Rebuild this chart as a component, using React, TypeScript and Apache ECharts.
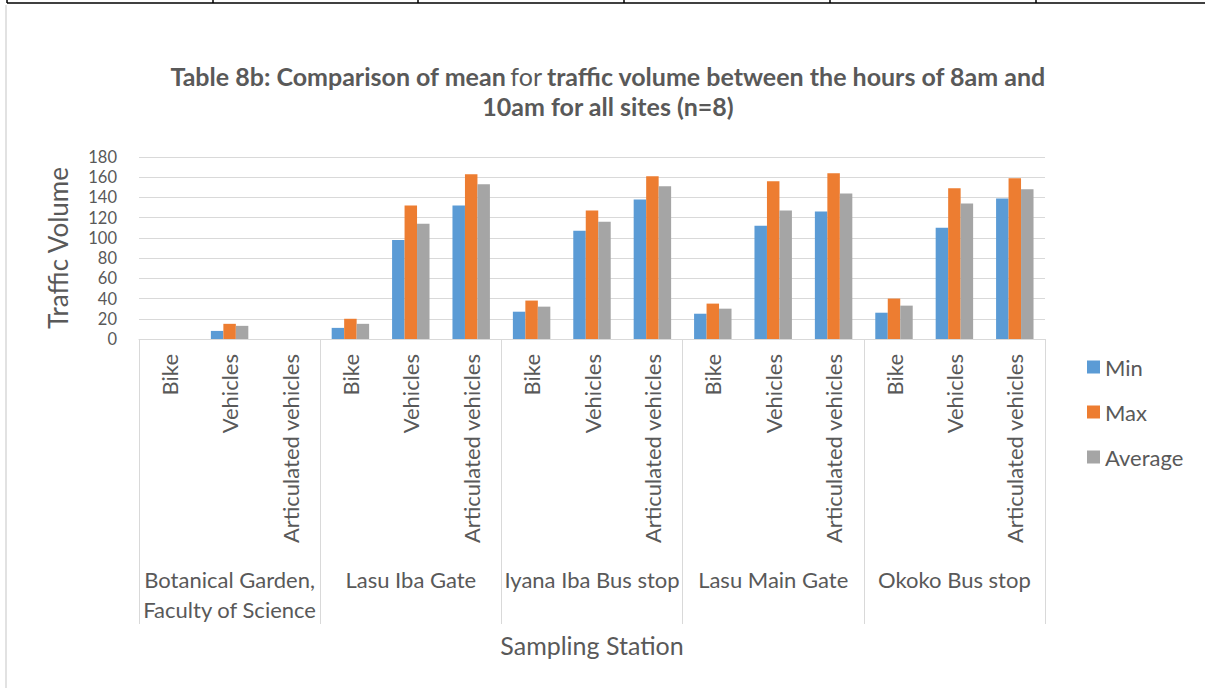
import React, { useEffect, useRef } from "react";
import * as echarts from "echarts";

const stations = [
  "Botanical Garden,\nFaculty of Science",
  "Lasu Iba Gate",
  "Iyana Iba Bus stop",
  "Lasu Main Gate",
  "Okoko Bus stop",
];
const vehicleTypes = ["Bike", "Vehicles", "Articulated vehicles"];
const categories: string[] = stations.flatMap(() => vehicleTypes);

const minValues = [0, 8, 0, 11, 98, 132, 27, 107, 138, 25, 112, 126, 26, 110, 139];
const maxValues = [0, 15, 0, 20, 132, 163, 38, 127, 161, 35, 156, 164, 40, 149, 159];
const avgValues = [0, 13, 0, 15, 114, 153, 32, 116, 151, 30, 127, 144, 33, 134, 148];

const seriesNames = ["Min", "Max", "Average"];
const seriesColors = ["#5b9bd5", "#ed7d31", "#a5a5a5"];

const FONT = "Lato, 'Open Sans', sans-serif";
const TEXT = "#595959";
const GRIDC = "#d9d9d9";

export default function App() {
  const ref = useRef<HTMLDivElement>(null);
  useEffect(() => {
    document.body.style.margin = "0";
    if (!ref.current) return;
    const chart = echarts.init(ref.current, null, { renderer: "svg" });
    const tickXs = [7, 213, 418, 624, 830, 1036];
    chart.setOption({
      animation: false,
      backgroundColor: "#ffffff",
      textStyle: { fontFamily: FONT },
      title: {
        left: 608,
        textAlign: "center",
        top: 61,
        padding: 0,
        text:
          "{b|Table 8b: Comparison of mean} {n|for} {b|traffic volume between the hours of 8am and}\n{b|10am for all sites (n=8)}",
        textStyle: {
          rich: {
            b: { fontFamily: FONT, fontSize: 25, fontWeight: "bold", color: TEXT, lineHeight: 30 },
            n: { fontFamily: FONT, fontSize: 25, fontWeight: "normal", color: TEXT, lineHeight: 30 },
          },
        },
      },
      legend: {
        orient: "vertical",
        left: 1087,
        top: 356,
        padding: 0,
        itemWidth: 13,
        itemHeight: 13,
        itemGap: 23,
        itemTextGap: 7,
        icon: "rect",
        data: seriesNames,
        textStyle: { fontFamily: FONT, fontSize: 22, color: TEXT, lineHeight: 22 },
      },
      grid: { left: 139, right: 160, top: 157, bottom: 349, containLabel: false },
      xAxis: [
        {
          type: "category",
          data: categories,
          axisLine: { show: true, lineStyle: { color: GRIDC, width: 1 } },
          axisTick: { show: false },
          axisLabel: {
            interval: 0,
            rotate: 90,
            margin: 15,
            fontFamily: FONT,
            fontSize: 22,
            color: TEXT,
          },
        },
        {
          type: "category",
          data: stations,
          position: "bottom",
          axisLine: { show: false },
          axisTick: { show: true, interval: 0, length: 285, lineStyle: { color: GRIDC, width: 1 } },
          axisLabel: {
            interval: 0,
            margin: 225,
            fontFamily: FONT,
            fontSize: 22,
            color: TEXT,
            lineHeight: 30,
          },
          name: "Sampling Station",
          nameLocation: "middle",
          nameGap: 293,
          nameTextStyle: { fontFamily: FONT, fontSize: 25, color: TEXT },
        },
      ],
      yAxis: {
        type: "value",
        min: 0,
        max: 180,
        interval: 20,
        axisLine: { show: false },
        axisTick: { show: false },
        splitLine: { lineStyle: { color: GRIDC, width: 1 } },
        axisLabel: {
          fontFamily: FONT,
          fontSize: 16.5,
          color: TEXT,
          margin: 22,
          showMinLabel: true,
          showMaxLabel: true,
        },
        name: "Traffic Volume",
        nameLocation: "middle",
        nameGap: 68,
        nameTextStyle: { fontFamily: FONT, fontSize: 26, color: TEXT },
      },
      series: [minValues, maxValues, avgValues].map((d, i) => ({
        name: seriesNames[i],
        type: "bar",
        data: d,
        xAxisIndex: 0,
        barGap: "0%",
        barCategoryGap: "38%",
        itemStyle: { color: seriesColors[i] },
      })),
      graphic: [
        {
          type: "line",
          shape: { x1: 7, y1: 3, x2: 1205, y2: 3 },
          style: { stroke: "#000", lineWidth: 1.5 },
        },
        ...tickXs.map((x) => ({
          type: "line",
          shape: { x1: x, y1: 0, x2: x, y2: 3 },
          style: { stroke: "#000", lineWidth: 1.5 },
        })),
        {
          type: "line",
          shape: { x1: 6, y1: 5, x2: 6, y2: 688 },
          style: { stroke: GRIDC, lineWidth: 1.5 },
        },
      ],
    });
    return () => chart.dispose();
  }, []);
  return <div ref={ref} style={{ width: 1205, height: 688 }} />;
}
